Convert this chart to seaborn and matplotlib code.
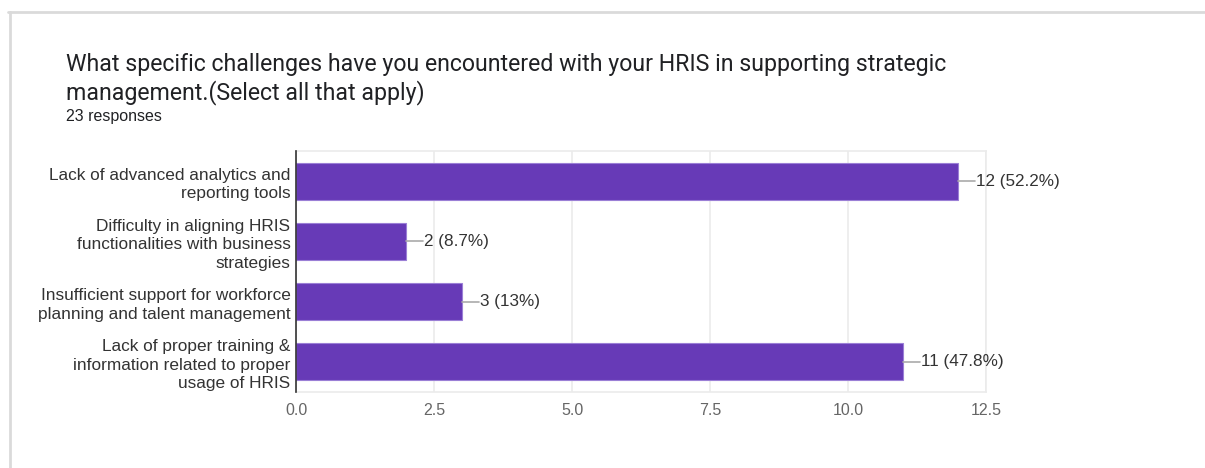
import matplotlib
matplotlib.use("Agg")
import matplotlib.pyplot as plt
import seaborn as sns
import pandas as pd
from matplotlib.lines import Line2D

categories = [
    "Lack of advanced analytics and\nreporting tools",
    "Difficulty in aligning HRIS\nfunctionalities with business\nstrategies",
    "Insufficient support for workforce\nplanning and talent management",
    "Lack of proper training &\ninformation related to proper\nusage of HRIS",
]
counts = [12, 2, 3, 11]
percent_labels = ["52.2%", "8.7%", "13%", "47.8%"]
x_ticks = [0.0, 2.5, 5.0, 7.5, 10.0, 12.5]
total_responses = 23

sns.set_theme(style="white")
plt.rcParams["font.family"] = ["Liberation Sans", "DejaVu Sans"]

df = pd.DataFrame({"category": categories, "count": counts})

fig = plt.figure(figsize=(12.05, 4.68), dpi=100)
ax = fig.add_axes([296 / 1205, 1 - 392 / 468, 690 / 1205, 241 / 468])

sns.barplot(data=df, y="category", x="count", orient="h", color="#673ab7",
            saturation=1, width=0.61, ax=ax, edgecolor="#9b7fd6", linewidth=0.8)

ax.set_xlim(0, 12.5)
ax.set_ylim(3.5, -0.5)
ax.set_xticks(x_ticks)
ax.set_xticklabels([f"{t:.1f}" for t in x_ticks])
ax.set_xlabel("")
ax.set_ylabel("")
ax.tick_params(axis="x", length=0, pad=8, labelsize=11.5, labelcolor="#666666")
ax.tick_params(axis="y", length=0, pad=4, labelsize=12.4, labelcolor="#333333")
for lbl in ax.get_yticklabels():
    lbl.set_linespacing(1.3)

ax.grid(axis="x", color="#ebebeb", linewidth=1.2)
ax.set_axisbelow(True)
for side in ["top", "right", "bottom"]:
    ax.spines[side].set_visible(True)
    ax.spines[side].set_color("#ebebeb")
    ax.spines[side].set_linewidth(1.2)
ax.spines["left"].set_color("#333333")
ax.spines["left"].set_linewidth(1.2)
ax.spines["left"].set_zorder(5)

# value labels with a short leader line
px = 12.5 / 690
for i, (c, p) in enumerate(zip(counts, percent_labels)):
    ax.plot([c, c + 17 * px], [i, i], color="#aaaaaa", lw=1.2,
            clip_on=False, zorder=4)
    ax.text(c + 18 * px, i, f"{c} ({p})", va="center", ha="left",
            fontsize=12.3, color="#333333")

# title block
title_font = ["Roboto", "DejaVu Sans"]
fig.text(66 / 1205, 1 - 64 / 468, "What specific challenges have you encountered with your HRIS in supporting strategic",
         fontsize=16.7, color="#202124", va="center", ha="left", family=title_font)
fig.text(66 / 1205, 1 - 93 / 468, "management.(Select all that apply)",
         fontsize=16.7, color="#202124", va="center", ha="left", family=title_font)
fig.text(66 / 1205, 1 - 117 / 468, f"{total_responses} responses",
         fontsize=11.5, color="#202124", va="center", ha="left")

# card outline
fig.add_artist(Line2D([8 / 1205, 1.0], [1 - 12 / 468, 1 - 12 / 468],
                      transform=fig.transFigure, color="#dadada", lw=2))
fig.add_artist(Line2D([10 / 1205, 10 / 1205], [0, 1 - 12 / 468],
                      transform=fig.transFigure, color="#dadada", lw=2))

fig.savefig("out.png", dpi=100)
